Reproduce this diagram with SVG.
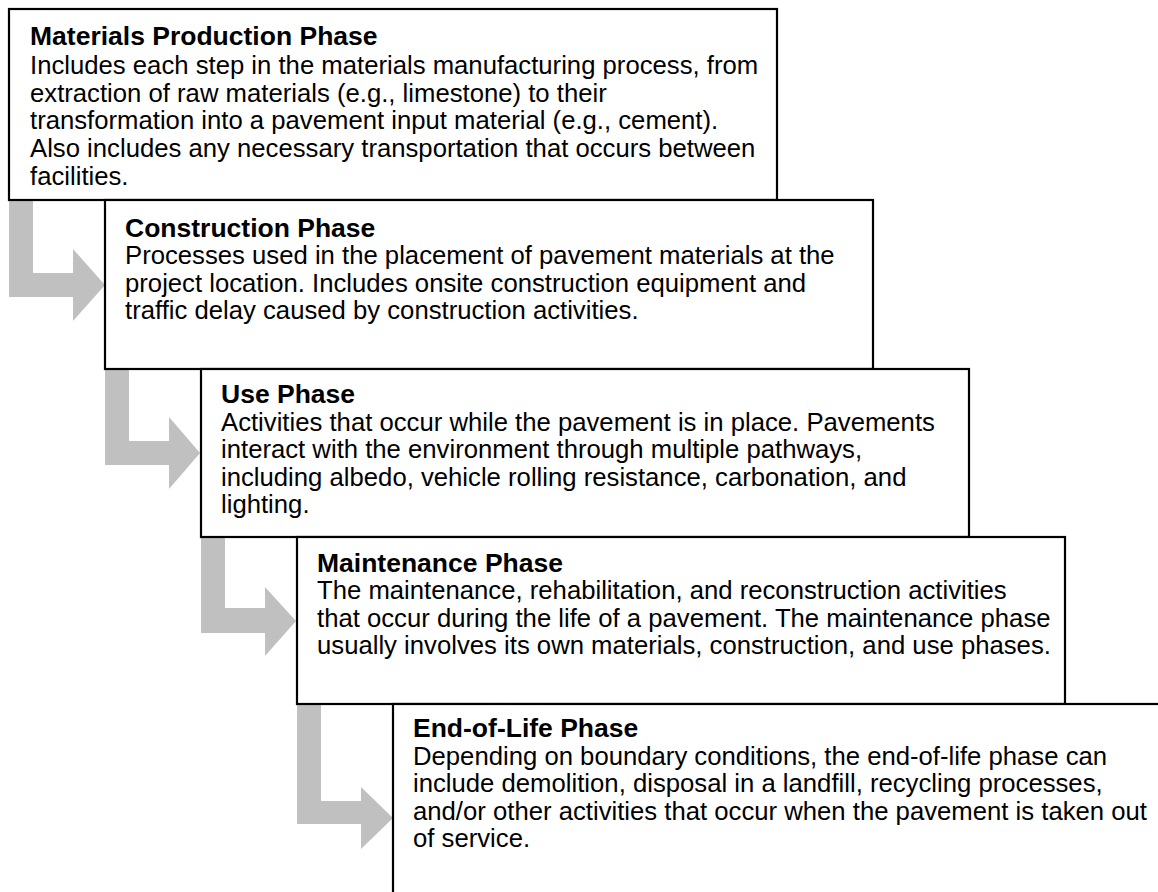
<svg xmlns="http://www.w3.org/2000/svg" width="1158" height="892" viewBox="0 0 1158 892">
<style>
.box{fill:#fff;stroke:#000;stroke-width:2.2}
.arr{fill:#c0c0c0;stroke:none}
.t{font-family:"Liberation Sans",Arial,sans-serif;font-weight:bold;font-size:26.5px;fill:#000}
.b{font-family:"Liberation Sans",Arial,sans-serif;font-size:25.7px;fill:#000}
</style>
<rect width="1158" height="892" fill="#fff"/>
<g id="connectors">
<polygon class="arr" points="9,201 33,201 33,273 73,273 73,249 105,285 73,321 73,297 9,297"/>
<polygon class="arr" points="105,370 129,370 129,441 169,441 169,417 200,453 169,489 169,465 105,465"/>
<polygon class="arr" points="201,538 225,538 225,608 265,608 265,587 296,621 265,656 265,633 201,633"/>
<polygon class="arr" points="297,705 321,705 321,801 361,801 361,787 393,818 361,849 361,824 297,824"/>
</g>
<g id="materials">
<rect class="box" x="9" y="9" width="768" height="191"/>
<text class="t" x="30" y="45">Materials Production Phase</text>
<text class="b" x="30" y="74">Includes each step in the materials manufacturing process, from</text>
<text class="b" x="30" y="101.7">extraction of raw materials (e.g., limestone) to their</text>
<text class="b" x="30" y="129">transformation into a pavement input material (e.g., cement).</text>
<text class="b" x="30" y="156.7">Also includes any necessary transportation that occurs between</text>
<text class="b" x="30" y="185">facilities.</text>
</g>
<g id="construction">
<rect class="box" x="105" y="200" width="768" height="169"/>
<text class="t" x="125" y="236.7">Construction Phase</text>
<text class="b" x="125" y="264.3">Processes used in the placement of pavement materials at the</text>
<text class="b" x="125" y="291.7">project location. Includes onsite construction equipment and</text>
<text class="b" x="125" y="319">traffic delay caused by construction activities.</text>
</g>
<g id="use">
<rect class="box" x="201" y="369" width="768" height="168"/>
<text class="t" x="221" y="403.3">Use Phase</text>
<text class="b" x="221" y="431">Activities that occur while the pavement is in place. Pavements</text>
<text class="b" x="221" y="458.3">interact with the environment through multiple pathways,</text>
<text class="b" x="221" y="485.7">including albedo, vehicle rolling resistance, carbonation, and</text>
<text class="b" x="221" y="513">lighting.</text>
</g>
<g id="maintenance">
<rect class="box" x="297" y="537" width="768" height="167"/>
<text class="t" x="317" y="571.7">Maintenance Phase</text>
<text class="b" x="317" y="599">The maintenance, rehabilitation, and reconstruction activities</text>
<text class="b" x="317" y="626.7">that occur during the life of a pavement. The maintenance phase</text>
<text class="b" x="317" y="654">usually involves its own materials, construction, and use phases.</text>
</g>
<g id="endoflife">
<rect class="box" x="393" y="704" width="800" height="220"/>
<text class="t" x="413" y="737.3">End-of-Life Phase</text>
<text class="b" x="413" y="765">Depending on boundary conditions, the end-of-life phase can</text>
<text class="b" x="413" y="792.3">include demolition, disposal in a landfill, recycling processes,</text>
<text class="b" x="413" y="819.7">and/or other activities that occur when the pavement is taken out</text>
<text class="b" x="413" y="847">of service.</text>
</g>
</svg>
